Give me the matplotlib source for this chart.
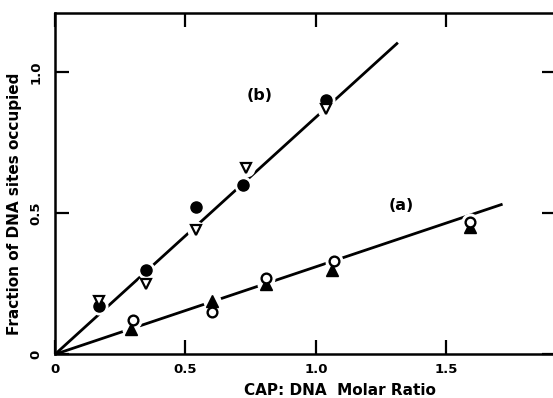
import matplotlib
matplotlib.use('Agg')
import matplotlib.pyplot as plt

# curve (b): filled circles and open down-triangles
b_circ_x = [0.17, 0.35, 0.54, 0.72, 1.04]
b_circ_y = [0.17, 0.30, 0.52, 0.60, 0.90]
b_tri_x = [0.17, 0.35, 0.54, 0.73, 1.04]
b_tri_y = [0.19, 0.25, 0.44, 0.66, 0.87]

# curve (a): open circles and filled up-triangles
a_circ_x = [0.30, 0.60, 0.81, 1.07, 1.59]
a_circ_y = [0.12, 0.15, 0.27, 0.33, 0.47]
a_tri_x = [0.29, 0.60, 0.81, 1.06, 1.59]
a_tri_y = [0.09, 0.19, 0.25, 0.30, 0.45]

# fitted lines
line_b_x = [0, 1.31]
line_b_y = [0, 1.10]
line_a_x = [0, 1.71]
line_a_y = [0, 0.53]

x_ticks = [0, 0.5, 1.0, 1.5]
x_tick_labels = ['0', '0.5', '1.0', '1.5']
y_ticks = [0, 0.5, 1.0]
y_tick_labels = ['0', '0.5', '1.0']

plt.rcParams['font.family'] = 'DejaVu Sans'
plt.rcParams['font.weight'] = 'bold'

fig = plt.figure(figsize=(5.53, 3.98), dpi=100)
ax = fig.add_axes([0.0995, 0.1098, 0.906, 0.858])

ax.plot(line_b_x, line_b_y, color='black', lw=2.0, zorder=2)
ax.plot(line_a_x, line_a_y, color='black', lw=2.0, zorder=2)

# white halos break the lines around the markers, as in the original
for xs, ys in [(b_circ_x, b_circ_y), (b_tri_x, b_tri_y),
               (a_circ_x, a_circ_y), (a_tri_x, a_tri_y)]:
    ax.plot(xs, ys, 'o', ms=13, color='white', mec='none', zorder=3)

ax.plot(b_circ_x, b_circ_y, 'o', ms=8, color='black', zorder=4)
ax.plot(b_tri_x, b_tri_y, 'v', ms=7.5, mfc='white', mec='black', mew=1.6, zorder=4)
ax.plot(a_circ_x, a_circ_y, 'o', ms=7, mfc='white', mec='black', mew=1.7, zorder=5)
ax.plot(a_tri_x, a_tri_y, '^', ms=8, color='black', zorder=4)

ax.text(0.785, 0.918, '(b)', fontsize=11.5, fontweight='bold', ha='center', va='center')
ax.text(1.328, 0.528, '(a)', fontsize=11.5, fontweight='bold', ha='center', va='center')

ax.set_xlim(0, 1.92)
ax.set_ylim(0, 1.209)
ax.set_xticks(x_ticks)
ax.set_xticklabels(x_tick_labels)
ax.set_yticks(y_ticks)
ax.set_yticklabels(y_tick_labels, rotation=90, va='center')

ax.tick_params(direction='in', length=10, width=1.6, top=True, right=True, labelsize=9.5)
ax.tick_params(axis='x', pad=6)
ax.tick_params(axis='y', pad=9)
for s in ax.spines.values():
    s.set_linewidth(1.8)

ax.set_xlabel('CAP: DNA  Molar Ratio', fontsize=11, fontweight='bold')
ax.set_ylabel('Fraction of DNA sites occupied', fontsize=11, fontweight='bold')
ax.xaxis.set_label_coords(0.569, -0.084)
ax.yaxis.set_label_coords(-0.066, 0.44)

fig.savefig('out.png', dpi=100)
